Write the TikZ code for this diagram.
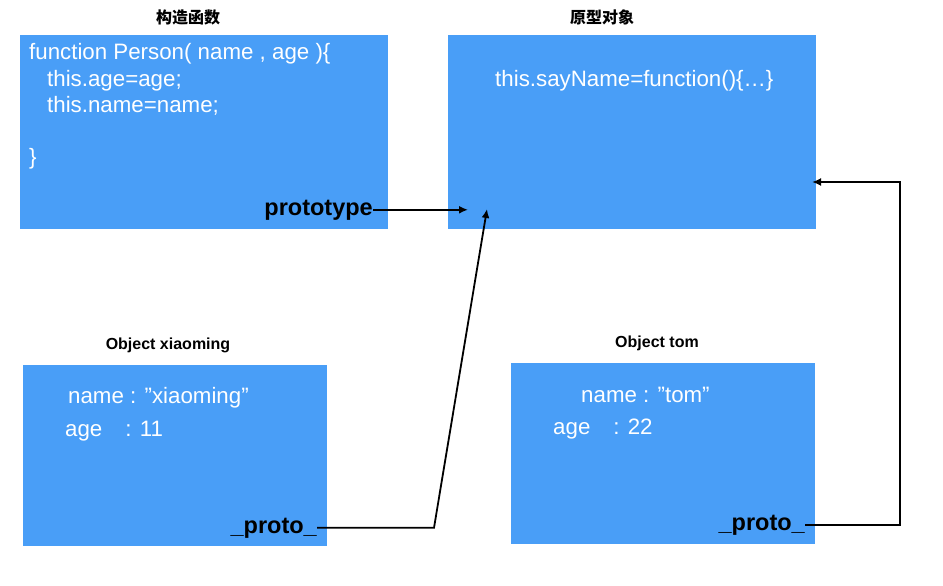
\documentclass[tikz,border=0pt]{standalone}
\usepackage{fontspec}
\setmainfont{Liberation Sans}
\newfontfamily\cjk{Noto Sans CJK SC}
\usetikzlibrary{arrows.meta}
\definecolor{boxblue}{RGB}{73,158,247}
\tikzset{
  box/.style={fill=boxblue, draw=none, inner sep=0pt, anchor=north west},
  code/.style={text=white, inner sep=0pt, anchor=base west, font=\fontsize{22.3}{26}\selectfont},
  ptr/.style={text=black, inner sep=0pt, anchor=base east, font=\fontsize{23.5}{26}\selectfont\bfseries},
  ttl/.style={text=black, inner sep=0pt, font=\fontsize{16}{18}\selectfont\bfseries},
  cttl/.style={text=black, inner sep=0pt, font=\fontsize{16}{18}\selectfont\cjk\bfseries},
  arr/.style={line width=1.8pt, -{Latex[length=9pt,width=8pt]}}
}
\begin{document}
\begin{tikzpicture}[x=1pt,y=-1pt]
\useasboundingbox (0,0) rectangle (943,586);
% boxes
\node[box, minimum width=368pt, minimum height=194pt] (ctor) at (20,35) {};
\node[box, minimum width=368pt, minimum height=194pt] (proto) at (448,35) {};
\node[box, minimum width=304pt, minimum height=181pt] (xm) at (23,365) {};
\node[box, minimum width=304pt, minimum height=181pt] (tom) at (511,363) {};
% titles
\node[cttl] (t1) at (188,17) {构造函数};
\node[cttl] (t2) at (602,17) {原型对象};
\node[ttl] (t3) at (168,345) {Object xiaoming};
\node[ttl] (t4) at (657,343) {Object tom};
% constructor code
\node[code] (f1) at (29,60) {function Person( name , age )\{};
\node[code] (f2) at (47,86) {this.age=age;};
\node[code] (f3) at (47,112) {this.name=name;};
\node[code] (f4) at (29,164) {\}};
\node[ptr] (pt) at (373,215) {prototype};
% prototype object
\node[code] (s1) at (495,86) {this.sayName=function()\{…\}};
% xiaoming
\node[code] (x1) at (68,403) {name : ”xiaoming”};
\node[code] (x2) at (65,436) {age\hspace{23pt}: 11};
\node[ptr] (px) at (317,533) {\_proto\_};
% tom
\node[code] (m1) at (581,402) {name : ”tom”};
\node[code] (m2) at (553,434) {age\hspace{23pt}: 22};
\node[ptr] (pm) at (805,530) {\_proto\_};
% connectors
\coordinate (tg1) at (468,208);
\coordinate (tg2) at (487,209);
\coordinate (bend) at (434,528);
\coordinate (corner) at (900,182);
\coordinate (tg3) at (812,182);
\draw[arr] (pt.east) -- (pt.east -| tg1);
\draw[arr] (px.east) -- (px.east -| bend) -- (tg2);
\draw[arr] (pm.east) -| (corner) -- (tg3);
\end{tikzpicture}
\end{document}
